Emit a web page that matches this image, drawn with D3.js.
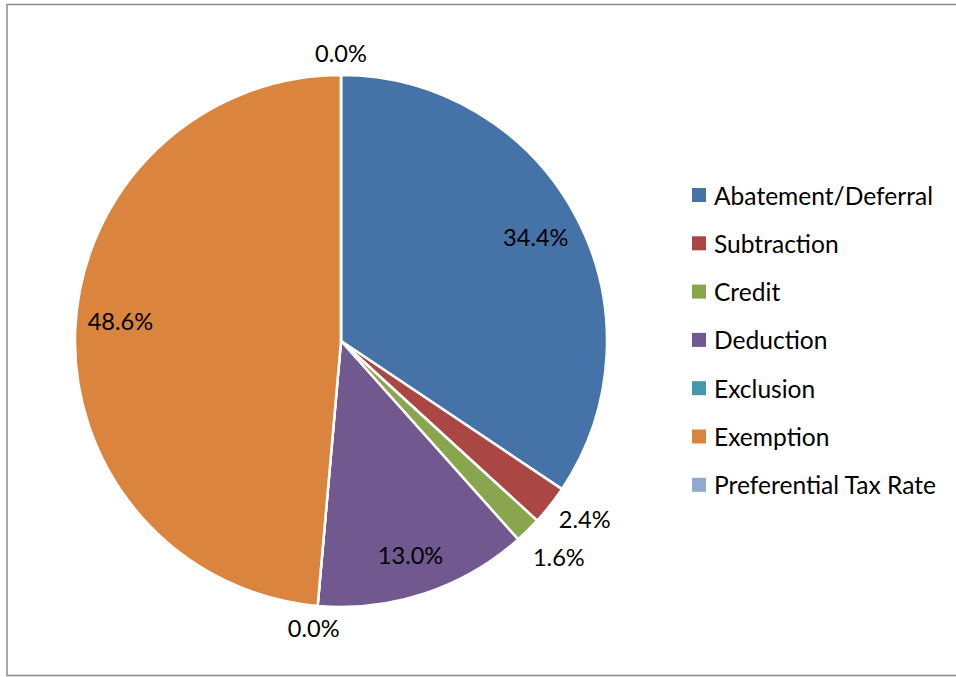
<!DOCTYPE html>
<html><head><meta charset="utf-8">
<script src="https://cdn.jsdelivr.net/npm/d3@7"></script>
<style>body{margin:0;background:#fff}svg{display:block}</style>
</head><body>
<svg id="c" width="956" height="677"></svg>
<script>
const categories = ["Abatement/Deferral","Subtraction","Credit","Deduction","Exclusion","Exemption","Preferential Tax Rate"];
const values = [34.4, 2.4, 1.6, 13.0, 0.0, 48.6, 0.0];
const colors = ["#4572A7","#AA4643","#89A54E","#71588F","#4198AF","#DB843D","#93A9CF"];

const svg = d3.select("#c");
const FONT = "Lato, 'Open Sans', sans-serif";
// frame
svg.append("rect").attr("x",7).attr("y",4.5).attr("width",960).attr("height",671)
  .attr("fill","#fff").attr("stroke","#8c8c8c").attr("stroke-width",1.5);

// font size scaled to match target legend width
const probe = svg.append("text").attr("font-family",FONT).attr("font-size",20).text("Abatement/Deferral");
const w20 = probe.node().getComputedTextLength();
probe.remove();
const fs = 20 * 219 / w20;

const cx = 341, cy = 341, r = 266;
const pie = d3.pie().sort(null).value(d => d)(values);
const arc = d3.arc().innerRadius(0).outerRadius(r);
const g = svg.append("g").attr("transform",`translate(${cx},${cy})`);
g.selectAll("path").data(pie).join("path")
  .attr("d",arc).attr("fill",(d,i)=>colors[i])
  .attr("stroke","#fff").attr("stroke-width",2.5).attr("stroke-linejoin","round");

const fmt = v => v.toFixed(1) + "%";
let prevOut = null;
pie.forEach((d,i) => {
  const a = (d.startAngle + d.endAngle)/2;
  const sx = Math.sin(a), sy = -Math.cos(a);
  let x, y;
  if (d.value >= 5) {
    const rr = r*0.83;
    x = rr*sx; y = rr*sy;
    if (Math.abs(sx) > 0.95) y -= 10;
    if (sy > 0.9) y += 4;
  } else {
    x = (r + 44)*sx; y = (r + 22)*sy;
    // avoid overlap with the previous outside label
    if (prevOut && Math.abs(y - prevOut.y) < 36 && Math.abs(x - prevOut.x) < 70) {
      y = prevOut.y + 38;
    }
    prevOut = {x, y};
  }
  g.append("text").attr("x",x).attr("y",y).attr("text-anchor","middle")
    .attr("dominant-baseline","central").attr("font-family",FONT).attr("font-size",fs*0.96)
    .attr("fill","#000").text(fmt(d.value));
});

// legend
const lg = svg.append("g");
categories.forEach((c,i) => {
  const y = 195 + i*48.3;
  lg.append("rect").attr("x",692).attr("y",y-7).attr("width",14).attr("height",14).attr("fill",colors[i]);
  lg.append("text").attr("x",714).attr("y",y).attr("dominant-baseline","central")
    .attr("font-family",FONT).attr("font-size",fs).attr("fill","#000").text(c);
});
</script>
</body></html>
